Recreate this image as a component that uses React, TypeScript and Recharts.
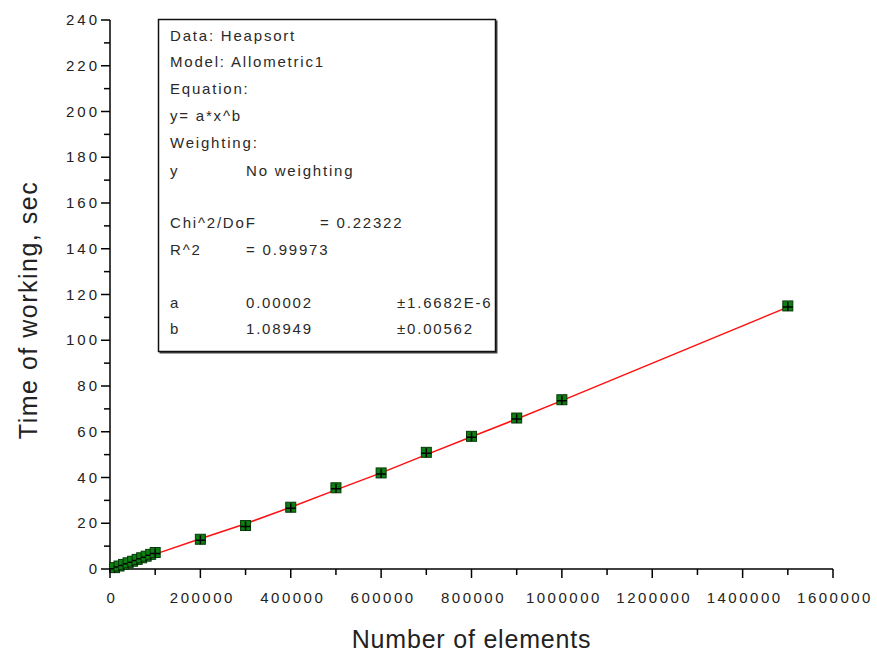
import { ComposedChart, Line, Scatter, XAxis, YAxis } from "recharts";

// measured sort times (heapsort)
const elements = [
  10000, 20000, 30000, 40000, 50000, 60000, 70000, 80000, 90000, 100000,
  200000, 300000, 400000, 500000, 600000, 700000, 800000, 900000, 1000000,
  1500000,
];
const seconds = [
  0.6, 1.3, 2.0, 2.7, 3.4, 4.2, 4.9, 5.6, 6.4, 7.2, 13, 19, 27, 35.5, 42,
  51, 58, 66, 74, 115,
];

// Allometric1 fit curve
const fitX = [
  0, 100000, 200000, 300000, 400000, 500000, 600000, 700000, 800000, 900000,
  1000000, 1500000,
];
const fitY = [0, 6.5, 13.2, 19.8, 27, 34.6, 42, 50, 57.8, 65.6, 73.6, 114.5];

const xTicks = [
  0, 100000, 200000, 300000, 400000, 500000, 600000, 700000, 800000, 900000,
  1000000, 1100000, 1200000, 1300000, 1400000, 1500000, 1600000,
];
const yTicks = [
  0, 10, 20, 30, 40, 50, 60, 70, 80, 90, 100, 110, 120, 130, 140, 150, 160,
  170, 180, 190, 200, 210, 220, 230, 240,
];

const fitInfo = [
  { y: 41, cols: [["Data: Heapsort", 170]] },
  { y: 67, cols: [["Model: Allometric1", 170]] },
  { y: 94, cols: [["Equation:", 170]] },
  { y: 121, cols: [["y= a*x^b", 170]] },
  { y: 148, cols: [["Weighting:", 170]] },
  { y: 176, cols: [["y", 170], ["No weighting", 246]] },
  { y: 228, cols: [["Chi^2/DoF", 170], ["= 0.22322", 320]] },
  { y: 255, cols: [["R^2", 170], ["=  0.99973", 246]] },
  { y: 308, cols: [["a", 170], ["0.00002", 246], ["±1.6682E-6", 397]] },
  { y: 334, cols: [["b", 170], ["1.08949", 246], ["±0.00562", 397]] },
];

const FONT = '"Liberation Sans", Arial, sans-serif';
const TEXT = "#222";

const points = elements.map((x, i) => ({ x, y: seconds[i] }));
const fit = fitX.map((x, i) => ({ x, y: fitY[i] }));

function XTick(props: any) {
  const { x, y, payload } = props;
  const major = payload.value % 200000 === 0;
  return (
    <g>
      <line x1={x} x2={x} y1={y} y2={y + (major ? 9 : 6)} stroke="#000" strokeWidth={1.5} />
      {major && (
        <text
          x={x + 2}
          y={y + 34}
          textAnchor="middle"
          fill={TEXT}
          style={{ fontFamily: FONT, fontSize: 15, letterSpacing: "2.5px" }}
        >
          {payload.value}
        </text>
      )}
    </g>
  );
}

function YTick(props: any) {
  const { x, y, payload } = props;
  const major = payload.value % 20 === 0;
  return (
    <g>
      <line x1={x} x2={x - (major ? 9 : 6)} y1={y} y2={y} stroke="#000" strokeWidth={1.5} />
      {major && (
        <text
          x={x - 10}
          y={y + 5}
          textAnchor="end"
          fill={TEXT}
          style={{ fontFamily: FONT, fontSize: 15, letterSpacing: "3px" }}
        >
          {payload.value}
        </text>
      )}
    </g>
  );
}

function Marker(props: any) {
  const { cx, cy } = props;
  return (
    <g>
      <rect x={cx - 5} y={cy - 5} width={10} height={10} fill="#0e7d12" stroke="#063a08" strokeWidth={1} />
      <path d={`M${cx - 5},${cy + 1}H${cx + 5}M${cx},${cy - 4}V${cy + 5}`} stroke="#000" strokeWidth={1.5} />
    </g>
  );
}

export default function App() {
  return (
    <div style={{ position: "absolute", left: 0, top: 0, width: 877, height: 654, background: "#fff" }}>
      <ComposedChart
        width={877}
        height={654}
        margin={{ top: 20, right: 44, bottom: 0, left: 0 }}
      >
        <XAxis
          type="number"
          dataKey="x"
          domain={[0, 1600000]}
          ticks={xTicks}
          interval={0}
          height={85}
          tickSize={0}
          tickMargin={0}
          tick={<XTick />}
          axisLine={{ stroke: "#000", strokeWidth: 1.5 }}
          label={{
            value: "Number of elements",
            position: "insideBottom",
            offset: 6,
            fill: TEXT,
            style: { fontFamily: FONT, fontSize: 25, letterSpacing: "0.8px" },
          }}
        />
        <YAxis
          type="number"
          dataKey="y"
          domain={[0, 240]}
          ticks={yTicks}
          interval={0}
          width={110}
          tickSize={0}
          tickMargin={0}
          tick={<YTick />}
          axisLine={{ stroke: "#000", strokeWidth: 1.5 }}
        />
        <Scatter data={points} dataKey="y" shape={<Marker />} isAnimationActive={false} />
        <Line
          data={fit}
          dataKey="y"
          type="linear"
          stroke="#ff1010"
          strokeWidth={1.5}
          dot={false}
          activeDot={false}
          isAnimationActive={false}
        />
      </ComposedChart>
      <svg
        width={877}
        height={654}
        style={{ position: "absolute", left: 0, top: 0, pointerEvents: "none" }}
      >
        <text
          transform="translate(37, 310) rotate(-90)"
          textAnchor="middle"
          fill={TEXT}
          style={{ fontFamily: FONT, fontSize: 25, letterSpacing: "1.5px" }}
        >
          Time of working, sec
        </text>
        <rect x={159.5} y={20.5} width={338} height={333} fill="#444" />
        <rect x={158.5} y={19.5} width={337} height={332} fill="#fff" stroke="#111" strokeWidth={1.5} />
        {fitInfo.map((row) =>
          row.cols.map(([t, x]) => (
            <text
              key={`${row.y}-${t}`}
              x={x as number}
              y={row.y}
              fill="#2a2a2a"
              style={{ fontFamily: FONT, fontSize: 15, letterSpacing: "1.8px" }}
            >
              {t}
            </text>
          ))
        )}
      </svg>
    </div>
  );
}
